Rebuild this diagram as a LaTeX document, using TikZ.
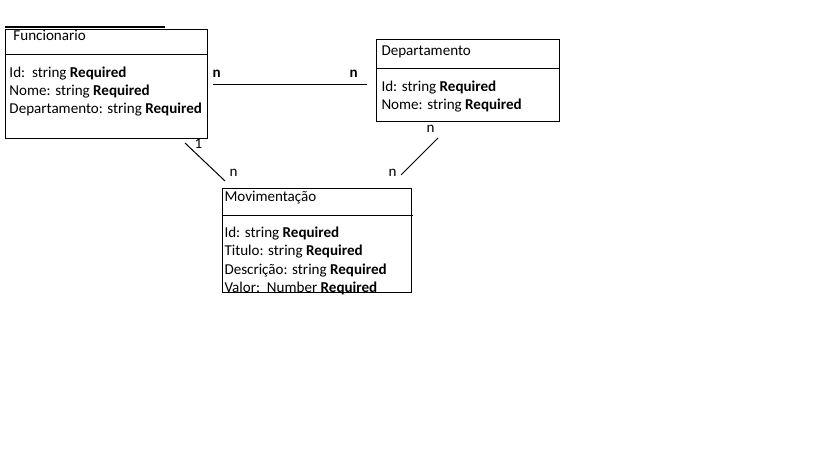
\documentclass[tikz,border=0pt]{standalone}
\usepackage{fontspec}
\setmainfont{Carlito}
\begin{document}
\begin{tikzpicture}[x=0.75pt,y=-0.75pt,line width=0.75pt,
  box/.style={draw,anchor=north west,inner sep=0pt},
  field/.style={anchor=base west,inner sep=0pt,font=\fontsize{11.3}{13}\selectfont},
  card/.style={anchor=base west,inner sep=0pt,font=\fontsize{11.3}{13}\selectfont}]
  \useasboundingbox (0,0) rectangle (819,460);
  %
  % Funcionario
  \node[box,minimum width=202*0.75pt,minimum height=109*0.75pt] (func) at (5,29) {};
  \draw[line width=1.5pt] (5,27) -- (165,27);
  \draw (5,55) -- (207,55);
  \node[field] (func-title) at (13,41) {Funcionario};
  \node[field] (func-id) at (9,78) {Id:\ \ string \textbf{Required}};
  \node[field] (func-nome) at (9,96) {Nome: string \textbf{Required}};
  \node[field] (func-dep) at (9,114) {Departamento: string \textbf{Required}};
  %
  % Departamento
  \node[box,minimum width=183*0.75pt,minimum height=82*0.75pt] (dep) at (376,39) {};
  \draw (376,69) -- (559,69);
  \node[field] (dep-title) at (381,56) {Departamento};
  \node[field] (dep-id) at (381,92) {Id: string \textbf{Required}};
  \node[field] (dep-nome) at (381,110) {Nome: string \textbf{Required}};
  %
  % Movimentacao
  \node[box,minimum width=189*0.75pt,minimum height=104*0.75pt] (mov) at (222,188) {};
  \draw (222,216) -- (413,216);
  \node[field] (mov-title) at (224,202) {Movimentação};
  \node[field] (mov-id) at (224,238) {Id: string \textbf{Required}};
  \node[field] (mov-tit) at (224,256) {Titulo: string \textbf{Required}};
  \node[field] (mov-desc) at (224,274) {Descrição: string \textbf{Required}};
  \node[field] (mov-val) at (224,292) {Valor:\ \ Number \textbf{Required}};
  %
  % Funcionario -- Departamento
  \coordinate (fd-a) at (213,85);
  \coordinate (fd-b) at (367,85);
  \draw (fd-a) -- (fd-b);
  \node[card] (fd-na) at (212,78) {\textbf{n}};
  \node[card] (fd-nb) at (349,78) {\textbf{n}};
  %
  % Funcionario -- Movimentacao
  \coordinate (fm-a) at (185,143);
  \coordinate (fm-b) at (225,181);
  \draw (fm-a) -- (fm-b);
  \node[card] (fm-one) at (194,149) {1};
  \node[card] (fm-n) at (229,177) {n};
  %
  % Departamento -- Movimentacao
  \coordinate (dm-a) at (438,138);
  \coordinate (dm-b) at (401,175);
  \draw (dm-a) -- (dm-b);
  \node[card] (dm-na) at (426,133) {n};
  \node[card] (dm-nb) at (388,177) {n};
  %
\end{tikzpicture}
\end{document}
